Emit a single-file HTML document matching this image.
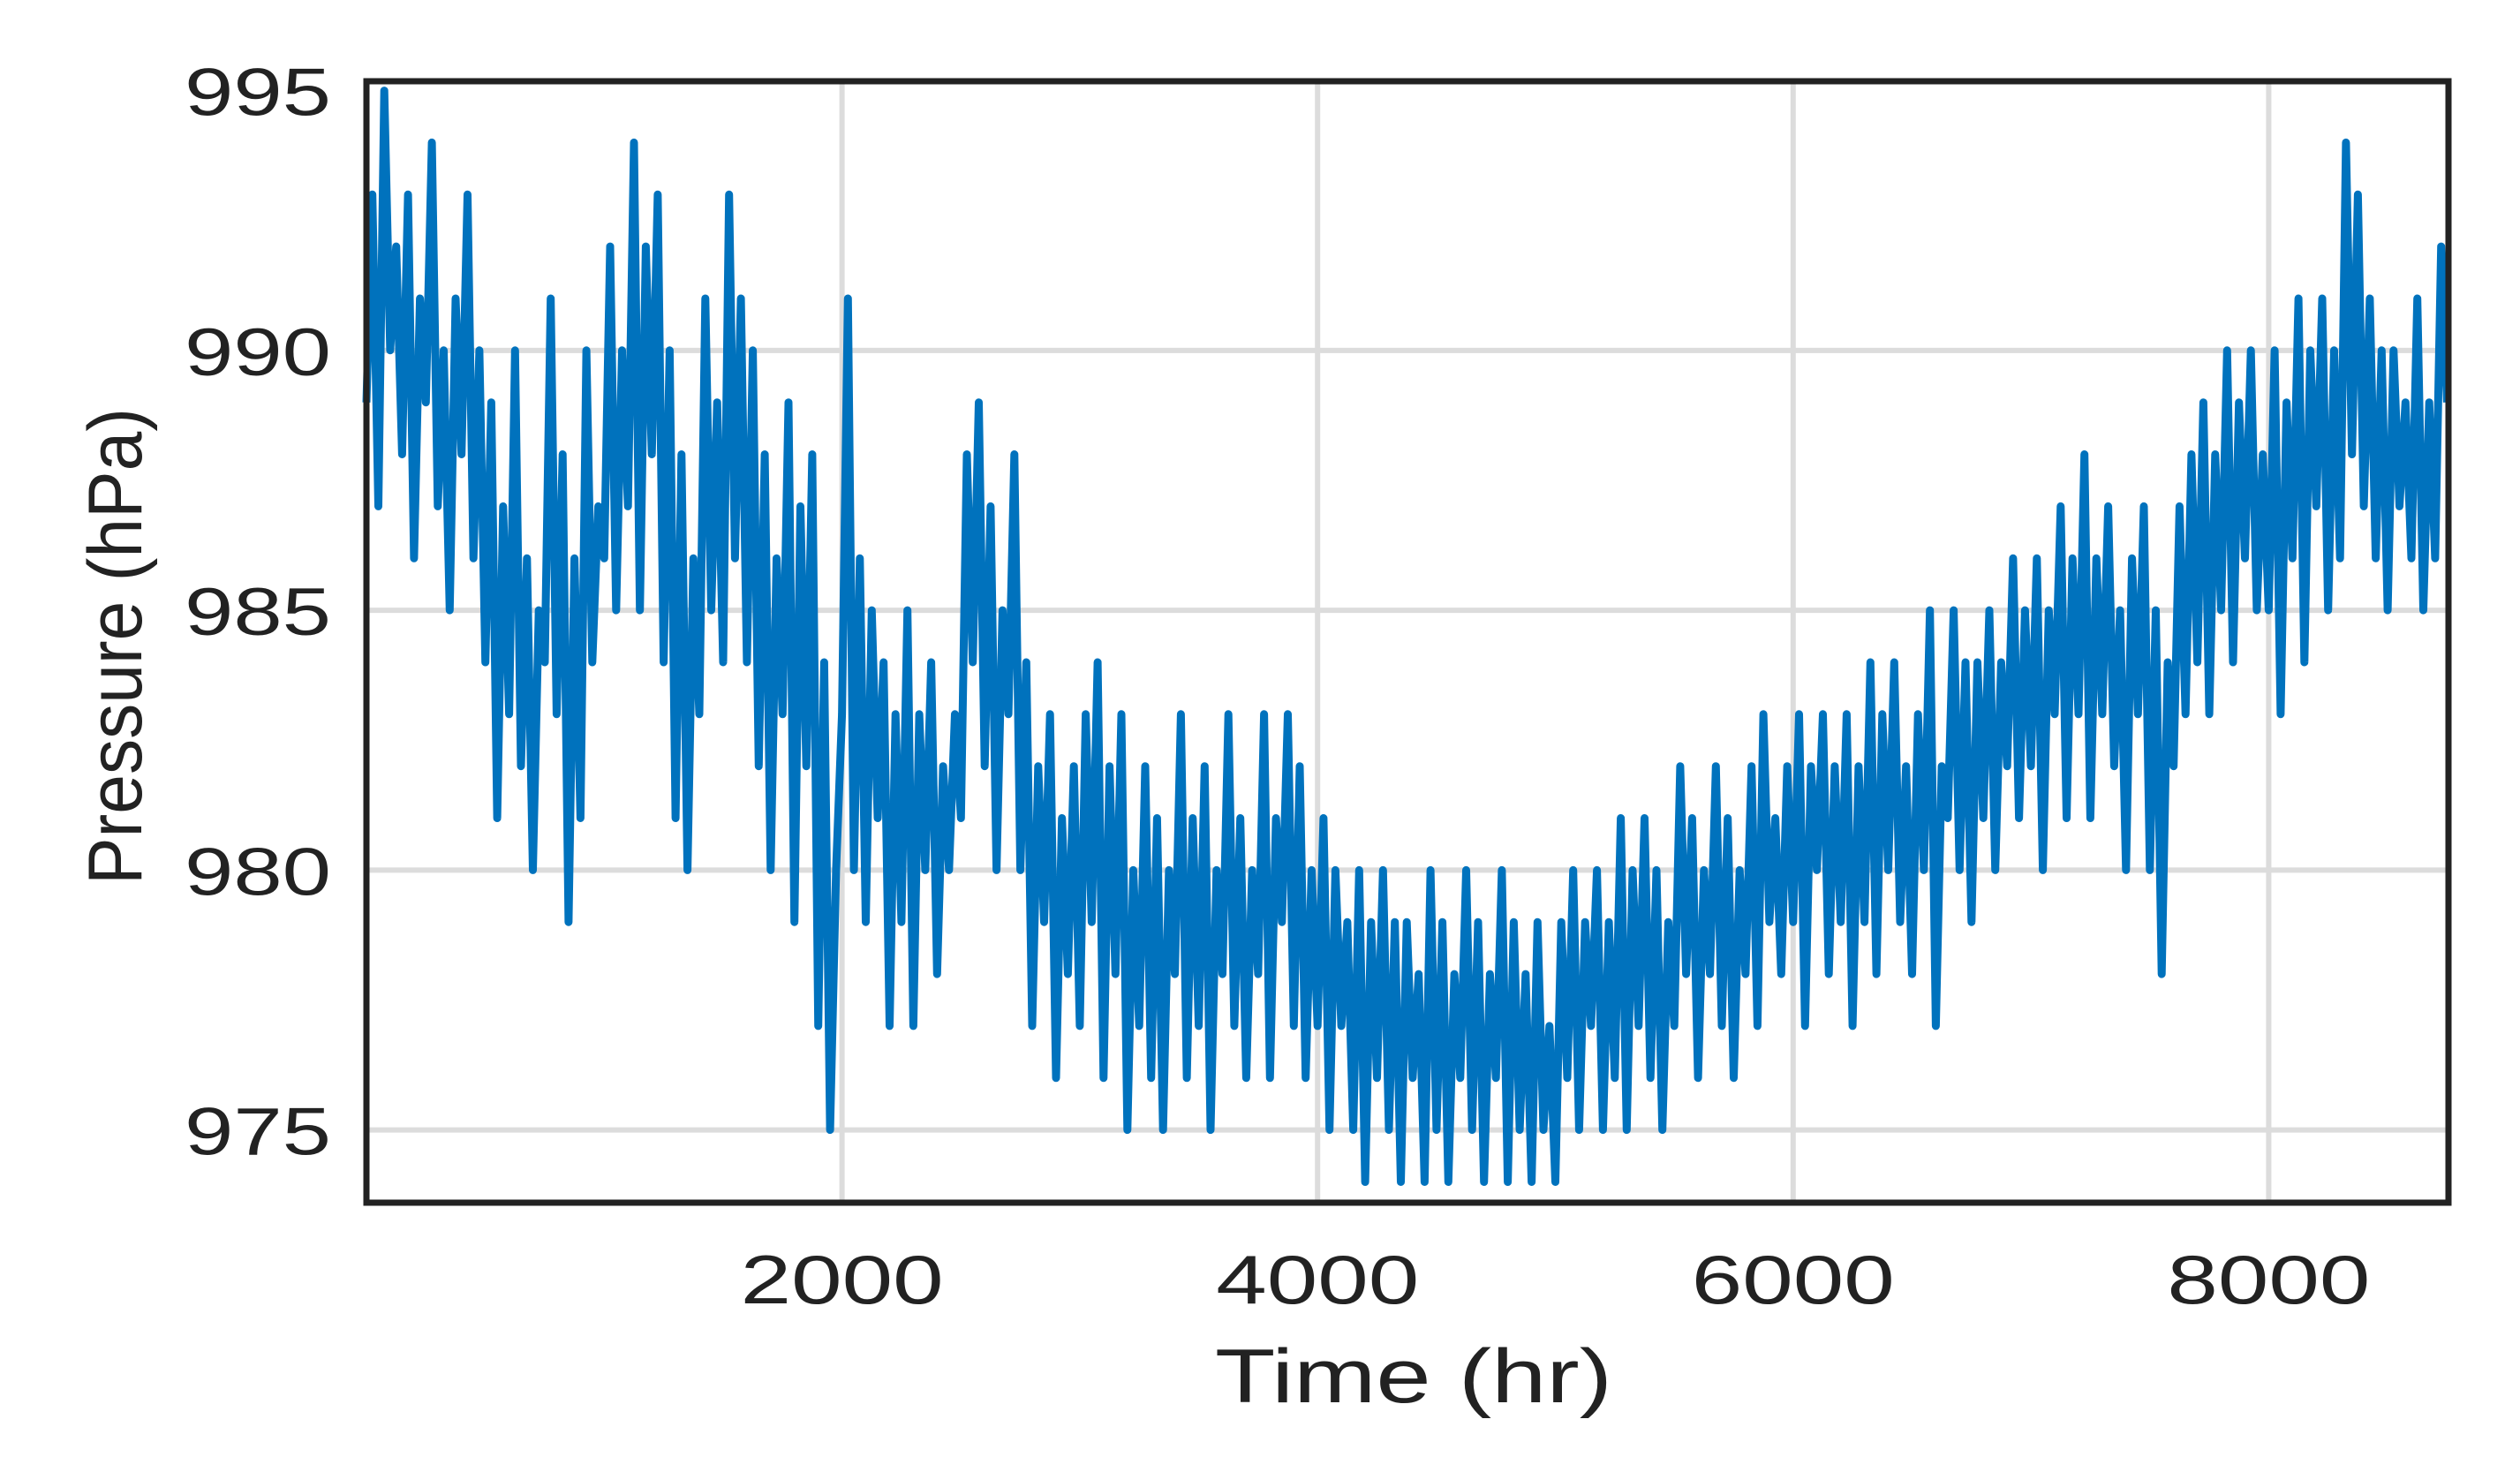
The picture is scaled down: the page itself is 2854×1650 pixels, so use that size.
<!DOCTYPE html>
<html><head><meta charset="utf-8"><style>
html,body{margin:0;padding:0;background:#fff;}
svg{display:block;}
text{font-family:"Liberation Sans",sans-serif;fill:#222;}
</style></head><body>
<svg id="chart" width="2854" height="1650">
<g id="grid"></g>
<g id="series"></g>
<rect x="415" y="92" width="2358" height="1270" fill="none" stroke="#222" stroke-width="7"/>
<g id="ticks"></g>
<text x="1601" y="1588" text-anchor="middle" font-size="86" textLength="450" lengthAdjust="spacingAndGlyphs">Time (hr)</text>
<text transform="translate(160,732) rotate(-90)" text-anchor="middle" font-size="86" textLength="540" lengthAdjust="spacingAndGlyphs">Pressure (hPa)</text>
</svg>
<script>
const xTicks=[2000,4000,6000,8000];
const yTicks=[975,980,985,990,995];
const step=25;
const pressure=[
989,993,987,995,990,992,988,993,986,991,
989,994,987,990,985,991,988,993,986,990,
984,989,981,987,983,990,982,986,980,985,
984,991,983,988,979,986,981,990,984,987,
986,992,985,990,987,994,985,992,988,993,
984,990,981,988,980,986,983,991,985,989,
984,993,986,991,984,990,982,988,980,986,
983,989,979,987,982,988,977,984,975,980,
983,991,980,986,979,985,981,984,977,983,
979,985,977,983,980,984,978,982,980,983,
981,988,984,989,982,987,980,985,983,988,
980,984,977,982,979,983,976,981,978,982,
977,983,979,984,976,982,978,983,975,980,
977,982,976,981,975,980,978,983,976,981,
977,982,975,980,978,983,977,981,976,980,
978,983,976,981,979,983,977,982,976,980,
977,981,975,980,977,979,975,980,974,979,
976,980,975,979,974,979,976,978,974,980,
975,979,974,978,976,980,975,979,974,978,
976,980,974,979,975,978,974,979,975,977,
974,979,976,980,975,979,977,980,975,979,
976,981,975,980,977,981,976,980,975,979,
977,982,978,981,976,980,978,982,977,981,
976,980,978,982,977,983,979,981,978,982,
979,983,977,982,980,983,978,982,979,983,
977,982,979,984,978,983,980,984,979,982,
978,983,980,985,977,982,981,985,980,984,
979,984,981,985,980,984,982,986,981,985,
982,986,980,985,983,987,981,986,983,988,
981,986,983,987,982,985,980,986,983,987,
980,985,978,984,982,987,983,988,984,989,
983,988,985,990,984,989,986,990,985,988,
985,990,983,989,986,991,984,990,987,991,
985,990,986,994,988,993,987,991,986,990,
985,990,987,989,986,991,985,989,986,992,
989];
const X0=415,X1=2773,Y0=92,Y1=1362;
const xMin=0,xMax=8756,yMin=973.6,yMax=995.18;
const xs=v=>X0+(v-xMin)/(xMax-xMin)*(X1-X0);
const ys=v=>Y1-(v-yMin)/(yMax-yMin)*(Y1-Y0);
const NS="http://www.w3.org/2000/svg";
const grid=document.getElementById('grid'),ticks=document.getElementById('ticks'),ser=document.getElementById('series');
function mk(t,a){const e=document.createElementNS(NS,t);for(const k in a)e.setAttribute(k,a[k]);return e;}
xTicks.forEach(v=>{
 const l=mk('line',{x1:xs(v),x2:xs(v),y1:Y0,y2:Y1,stroke:'#dcdcdc','stroke-width':6});
 
 
 grid.appendChild(l);
 const t=mk('text',{x:xs(v),y:1476,'text-anchor':'middle','font-size':78,textLength:230,lengthAdjust:'spacingAndGlyphs'});
 t.textContent=v;
 
 
 ticks.appendChild(t);
});
yTicks.forEach(v=>{
 if(v<995){const l=mk('line',{x1:X0,x2:X1,y1:ys(v),y2:ys(v),stroke:'#dcdcdc','stroke-width':6});
 
 
 grid.appendChild(l);}
 const t=mk('text',{x:375,y:ys(v)+28,'text-anchor':'end','font-size':76,textLength:166,lengthAdjust:'spacingAndGlyphs'});
 t.textContent=v;
 
 
 ticks.appendChild(t);
});
let d='';
pressure.forEach((p,i)=>{d+=(i?'L':'M')+xs(i*step).toFixed(1)+','+ys(p).toFixed(1);});
const path=mk('path',{d:d,fill:'none',stroke:'#0072BD','stroke-width':9,'stroke-linejoin':'round'});


ser.appendChild(path);
</script>
</body></html>
